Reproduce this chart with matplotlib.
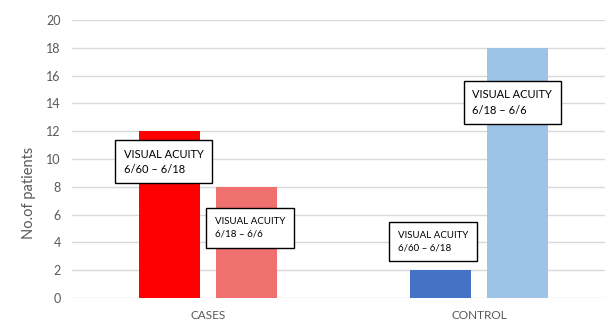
import matplotlib.pyplot as plt
import numpy as np

# ---- data
groups = ["CASES", "CONTROL"]
va_low = [12, 2]      # visual acuity 6/60 - 6/18
va_high = [8, 18]     # visual acuity 6/18 - 6/6
low_colors = ["#FF0000", "#4472C4"]
high_colors = ["#F07070", "#9DC3E6"]

label_low = "VISUAL ACUITY\n6/60 \u2013 6/18"
label_high = "VISUAL ACUITY\n6/18 \u2013 6/6"

plt.rcParams["font.family"] = ["Lato", "DejaVu Sans"]
GREY = "#595959"

fig = plt.figure(figsize=(6.05, 3.2), dpi=100)
# plot area runs a little past the right edge of the canvas
ax = fig.add_axes([0.119, 0.069, 0.8975, 0.8685])

x = np.arange(len(groups))
w = 0.225
gap = 0.06
ax.bar(x - (w + gap) / 2, va_low, width=w, color=low_colors, zorder=2)
ax.bar(x + (w + gap) / 2, va_high, width=w, color=high_colors, zorder=2)

ax.set_xlim(-0.5, 1.5)
ax.set_ylim(0, 20)
ax.set_yticks(range(0, 21, 2))
ax.set_xticks(x)
ax.set_xticklabels(groups)
ax.grid(axis="y", color="#D9D9D9", linewidth=1, zorder=0)
for s in ax.spines.values():
    s.set_visible(False)
ax.tick_params(axis="both", length=0, colors=GREY, labelsize=9)
ax.tick_params(axis="y", pad=8)
ax.tick_params(axis="x", pad=8.5, labelsize=8.5)

ax.set_ylabel("No.of patients", color=GREY, fontsize=10.5)
ax.yaxis.set_label_coords(-0.066, 0.378)

# callout boxes
big = dict(boxstyle="square,pad=0.75", facecolor="white",
           edgecolor="black", linewidth=1)
small = dict(boxstyle="square,pad=0.9", facecolor="white",
             edgecolor="black", linewidth=1)
ax.text(-0.31, 10.75, label_low, fontsize=8, va="top", ha="left",
        linespacing=1.5, bbox=big, zorder=3)
ax.text(0.025, 5.85, label_high, fontsize=7, va="top", ha="left",
        linespacing=1.6, bbox=small, zorder=3)
ax.text(0.70, 4.85, label_low, fontsize=7, va="top", ha="left",
        linespacing=1.6, bbox=small, zorder=3)
ax.text(0.975, 15.0, label_high, fontsize=8, va="top", ha="left",
        linespacing=1.5, bbox=big, zorder=3)

fig.savefig("out.png", dpi=100)
